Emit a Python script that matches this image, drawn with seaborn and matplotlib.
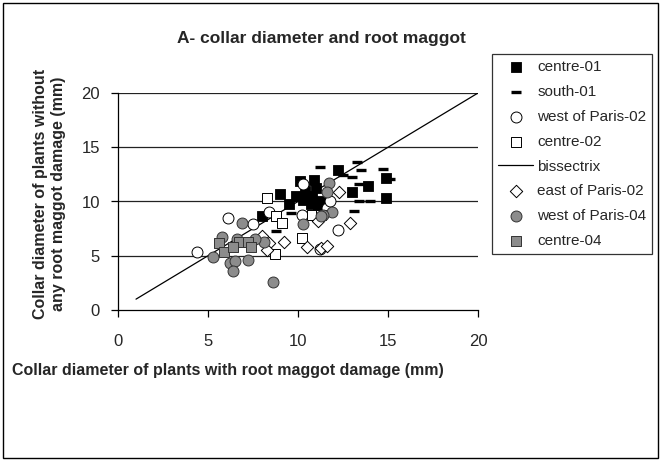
import pandas as pd
import matplotlib.pyplot as plt
import seaborn as sns
from matplotlib.patches import Rectangle

sns.set_theme(style="white")
plt.rcParams['font.family'] = ['Liberation Sans', 'DejaVu Sans']

# collar diameter (mm): x = with root maggot damage, y = without damage
centre01_x = [8.0, 9.0, 9.5, 9.9, 10.1, 10.4, 10.8, 10.9, 11.1, 10.7, 12.2, 13.0, 13.9, 14.9, 14.9, 10.3, 11.0, 11.3]
centre01_y = [8.7, 10.7, 9.8, 10.5, 11.9, 11.0, 10.5, 12.0, 9.7, 9.8, 12.9, 10.9, 11.4, 12.2, 10.3, 10.1, 11.2, 10.0]

south01_x = [11.2, 13.3, 13.5, 13.0, 14.7, 15.1, 13.4, 13.4, 14.0, 13.1, 8.8, 9.6, 12.5]
south01_y = [13.2, 13.6, 12.9, 12.3, 13.0, 12.1, 11.6, 10.0, 10.0, 9.1, 7.3, 8.9, 12.4]

westparis02_x = [4.4, 6.1, 7.5, 8.4, 10.3, 10.2, 11.6, 11.8, 12.2, 11.2]
westparis02_y = [5.3, 8.5, 7.9, 9.0, 11.6, 8.8, 9.4, 10.0, 7.4, 5.6]

centre02_x = [8.3, 8.8, 9.1, 10.2, 8.7, 10.8, 11.3]
centre02_y = [10.3, 8.7, 8.0, 6.6, 5.2, 8.8, 8.8]

bissectrix_x = [1, 20]
bissectrix_y = [1, 20]

eastparis02_x = [8.0, 8.4, 9.2, 8.3, 10.5, 11.3, 11.6, 12.3, 12.9, 11.1]
eastparis02_y = [6.8, 6.2, 6.3, 5.5, 5.8, 5.7, 5.9, 10.9, 8.0, 8.2]

westparis04_x = [5.3, 5.8, 6.9, 6.2, 6.5, 6.4, 7.2, 8.1, 8.6, 7.6, 6.6, 11.7, 11.6, 11.9, 10.3, 11.4, 11.3]
westparis04_y = [4.9, 6.7, 8.0, 4.3, 4.5, 3.6, 4.6, 6.3, 2.6, 6.5, 6.5, 11.7, 10.9, 9.0, 7.9, 8.8, 8.7]

centre04_x = [5.6, 5.9, 6.7, 7.2, 7.4, 6.4]
centre04_y = [6.2, 5.3, 6.3, 6.3, 5.8, 5.8]

ticks = [0, 5, 10, 15, 20]

fig = plt.figure(figsize=(6.62, 4.61), dpi=100)
ax = fig.add_axes([118 / 662, 1 - 310 / 461, 360 / 662, 217 / 461])

for y in ticks[1:]:
    ax.axhline(y, color='#222222', lw=0.9, zorder=0)

size = 52
sns.scatterplot(x=centre01_x, y=centre01_y, marker='s', color='black', edgecolor='black',
                s=size, linewidth=0.6, label='centre-01', ax=ax, zorder=3)
sns.scatterplot(x=south01_x, y=south01_y, marker='_', color='black',
                s=size, linewidth=2.4, label='south-01', ax=ax, zorder=3)
sns.scatterplot(x=westparis02_x, y=westparis02_y, marker='o', color='white', edgecolor='black',
                s=size + 10, linewidth=0.7, label='west of Paris-02', ax=ax, zorder=3)
sns.scatterplot(x=centre02_x, y=centre02_y, marker='s', color='white', edgecolor='black',
                s=size + 5, linewidth=0.7, label='centre-02', ax=ax, zorder=3)
sns.lineplot(x=bissectrix_x, y=bissectrix_y, color='black', lw=0.9, label='bissectrix', ax=ax, zorder=2)
sns.scatterplot(x=eastparis02_x, y=eastparis02_y, marker='D', color='white', edgecolor='black',
                s=size - 12, linewidth=0.7, label='east of Paris-02', ax=ax, zorder=3)
sns.scatterplot(x=westparis04_x, y=westparis04_y, marker='o', color='#8c8c8c', edgecolor='#333333',
                s=size + 10, linewidth=0.7, label='west of Paris-04', ax=ax, zorder=3)
sns.scatterplot(x=centre04_x, y=centre04_y, marker='s', color='#8c8c8c', edgecolor='#333333',
                s=size + 5, linewidth=0.7, label='centre-04', ax=ax, zorder=3)

ax.set_xlim(0, 20)
ax.set_ylim(0, 20)
ax.set_xticks(ticks)
ax.set_yticks(ticks)
ax.tick_params(axis='both', direction='out', length=5, width=0.9, color='black',
               labelsize=12, left=True, bottom=True)
ax.tick_params(axis='x', pad=12)
ax.tick_params(axis='y', pad=8)
for side in ['top', 'right']:
    ax.spines[side].set_visible(False)
for side in ['left', 'bottom']:
    ax.spines[side].set_color('black')
    ax.spines[side].set_linewidth(0.9)
ax.grid(False)

ax.set_title("A- collar diameter and root maggot", fontsize=12.5, fontweight='bold',
             x=0.564, y=1.23, pad=0)
ax.set_xlabel("Collar diameter of plants with root maggot damage (mm)",
              fontsize=11.5, fontweight='bold')
ax.xaxis.set_label_coords(0.306, -0.245)
ax.set_ylabel("Collar diameter of plants without\nany root maggot damage (mm)",
              fontsize=11.5, fontweight='bold', linespacing=1.3, va='center')
ax.yaxis.set_label_coords(-0.19, 0.535)

leg = ax.legend(loc='upper left', bbox_to_anchor=(492 / 662, 1 - 54 / 461),
                bbox_transform=fig.transFigure, frameon=True, fancybox=False,
                edgecolor='black', fontsize=11, labelspacing=0.71, handlelength=2.3,
                handletextpad=0.25, borderpad=0.4, borderaxespad=0)
leg.get_frame().set_linewidth(0.9)

fig.patches.append(Rectangle((3 / 662, 3 / 461), 655 / 662, 455 / 461, transform=fig.transFigure,
                             fill=False, edgecolor='black', lw=1))

fig.savefig("out.png", dpi=100)
